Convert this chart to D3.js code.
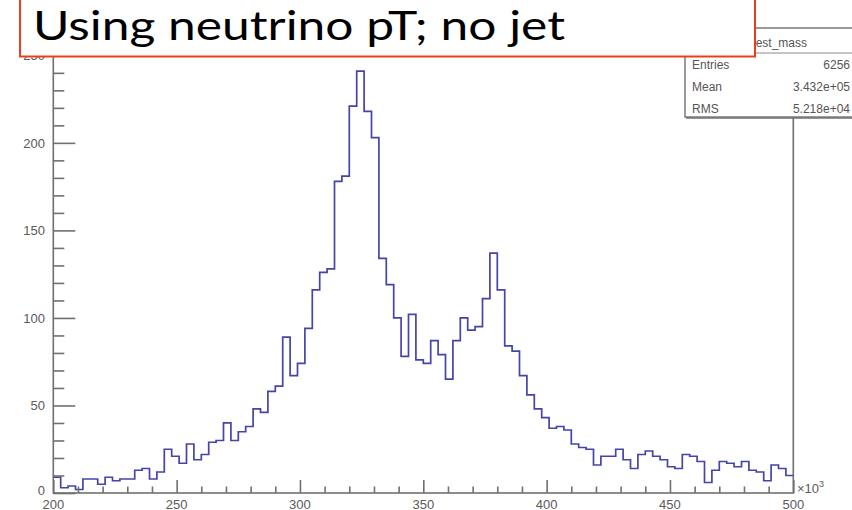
<!DOCTYPE html>
<html>
<head>
<meta charset="utf-8">
<script src="https://cdn.jsdelivr.net/npm/d3@7"></script>
<style>
  html, body { margin: 0; padding: 0; background: #fff; }
  svg { display: block; }
</style>
</head>
<body>
<svg id="chart" width="852" height="510"></svg>
<script>
// best_mass histogram: 100 bins from 200 to 500 (x10^3)
const binLow = 200;
const binHigh = 500;
const binCounts = [
  9, 3, 4, 2, 8, 8, 5, 9, 7, 8,
  8, 13, 14, 8, 12, 25, 21, 17, 28, 19,
  22, 29, 30, 40, 30, 35, 38, 48, 46, 58,
  61, 89, 67, 74, 94, 116, 126, 128, 178, 181,
  221, 241, 218, 203, 134, 119, 100, 78, 102, 76,
  74, 87, 79, 65, 87, 100, 93, 95, 111, 137,
  116, 84, 81, 67, 56, 48, 43, 37, 38, 36,
  28, 26, 25, 16, 21, 21, 25, 19, 14, 22,
  24, 21, 19, 15, 14, 22, 21, 18, 6, 13,
  18, 17, 15, 18, 13, 12, 7, 16, 14, 10
];
const xTickValues = [200, 250, 300, 350, 400, 450, 500];
const yTickValues = [0, 50, 100, 150, 200, 250];
const statLabels = ["Entries", "Mean", "RMS"];
const statValues = ["6256", "3.432e+05", "5.218e+04"];
const histName = "best_mass";
const titleText = "Using neutrino pT; no jet";

const svg = d3.select("#chart");

const frame = { left: 53.3, right: 793.3, bottom: 493, top: 50 };
const yMax = d3.max(binCounts) * 1.05;

const x = d3.scaleLinear().domain([binLow, binHigh]).range([frame.left, frame.right]);
const y = d3.scaleLinear().domain([0, yMax]).range([frame.bottom, frame.top]);

const axisColor = "#707070";
const labelColor = "#5a5a5a";
const labelFont = "Liberation Sans, Arial, sans-serif";

// frame box
svg.append("rect")
  .attr("x", frame.left).attr("y", frame.top)
  .attr("width", frame.right - frame.left).attr("height", frame.bottom - frame.top)
  .attr("fill", "none").attr("stroke", axisColor).attr("stroke-width", 1.6);

// histogram outline
const binWidth = (binHigh - binLow) / binCounts.length;
const stepPoints = binCounts.map((c, i) => [binLow + i * binWidth, c]);
stepPoints.push([binHigh, binCounts[binCounts.length - 1]]);

svg.append("path")
  .datum(stepPoints)
  .attr("fill", "none")
  .attr("stroke", "#4444aa")
  .attr("stroke-width", 1.7)
  .attr("d", d3.line().x(d => x(d[0])).y(d => y(d[1])).curve(d3.curveStepAfter));

// x axis: major ticks every 50, minor every 10
const xAxis = d3.axisTop(x)
  .tickValues(d3.range(binLow, binHigh + 0.001, 10))
  .tickSize(0)
  .tickFormat("");
const gx = svg.append("g").attr("transform", `translate(0,${frame.bottom})`).call(xAxis);
gx.select(".domain").remove();
gx.selectAll(".tick line")
  .attr("y2", d => (d % 50 === 0 ? -13 : -6.5))
  .attr("stroke", axisColor).attr("stroke-width", 1.6);

svg.append("g").selectAll("text")
  .data(xTickValues)
  .join("text")
  .attr("x", d => x(d))
  .attr("y", 508.5)
  .attr("text-anchor", "middle")
  .attr("font-family", labelFont)
  .attr("font-size", 13)
  .attr("fill", labelColor)
  .text(d => d);

// exponent label
const expo = svg.append("text")
  .attr("x", 797).attr("y", 493)
  .attr("font-family", labelFont)
  .attr("font-size", 13)
  .attr("fill", labelColor);
expo.append("tspan").text("\u00d710");
expo.append("tspan").attr("dy", -6).attr("font-size", 9).text("3");

// y axis: major every 50, minor every 10
const yAxis = d3.axisRight(y)
  .tickValues(d3.range(0, 251, 10))
  .tickSize(0)
  .tickFormat("");
const gy = svg.append("g").attr("transform", `translate(${frame.left},0)`).call(yAxis);
gy.select(".domain").remove();
gy.selectAll(".tick line")
  .attr("x2", d => (d % 50 === 0 ? 22 : 11))
  .attr("stroke", axisColor).attr("stroke-width", 1.6);

// the zero label sits a little higher so it clears the x labels
svg.append("g").selectAll("text")
  .data(yTickValues)
  .join("text")
  .attr("x", 45)
  .attr("y", d => y(d) - (d === 0 ? 2.5 : 0))
  .attr("dy", "0.36em")
  .attr("text-anchor", "end")
  .attr("font-family", labelFont)
  .attr("font-size", 13)
  .attr("fill", labelColor)
  .text(d => d);

// statistics box
const stats = svg.append("g");
stats.append("rect")
  .attr("x", 685).attr("y", 28).attr("width", 200).attr("height", 89)
  .attr("fill", "#fff").attr("stroke", "#707070").attr("stroke-width", 1.4);
stats.append("line")
  .attr("x1", 686).attr("x2", 852).attr("y1", 118).attr("y2", 118)
  .attr("stroke", "#707070").attr("stroke-width", 1.6);
stats.append("line")
  .attr("x1", 685).attr("x2", 885).attr("y1", 53).attr("y2", 53)
  .attr("stroke", "#8a8a8a").attr("stroke-width", 1);
stats.append("text")
  .attr("x", 749).attr("y", 47)
  .attr("font-family", labelFont)
  .attr("font-size", 12).attr("fill", "#555")
  .text(histName);
stats.selectAll("text.lab")
  .data(statLabels)
  .join("text")
  .attr("class", "lab")
  .attr("x", 692)
  .attr("y", (d, i) => 69 + i * 22)
  .attr("font-family", labelFont)
  .attr("font-size", 12).attr("fill", "#555")
  .text(d => d);
stats.selectAll("text.val")
  .data(statValues)
  .join("text")
  .attr("class", "val")
  .attr("x", 850)
  .attr("y", (d, i) => 69 + i * 22)
  .attr("text-anchor", "end")
  .attr("font-family", labelFont)
  .attr("font-size", 12).attr("fill", "#555")
  .text(d => d);

// title box on top
svg.append("rect")
  .attr("x", 20).attr("y", -4).attr("width", 735).attr("height", 60.5)
  .attr("fill", "#fff").attr("stroke", "#e8401c").attr("stroke-width", 2);
svg.append("text")
  .attr("x", 33).attr("y", 40)
  .attr("font-family", "Lato, 'Open Sans', sans-serif")
  .attr("font-size", 40)
  .attr("fill", "#000")
  .attr("textLength", 532)
  .attr("lengthAdjust", "spacingAndGlyphs")
  .text(titleText);
</script>
</body>
</html>
